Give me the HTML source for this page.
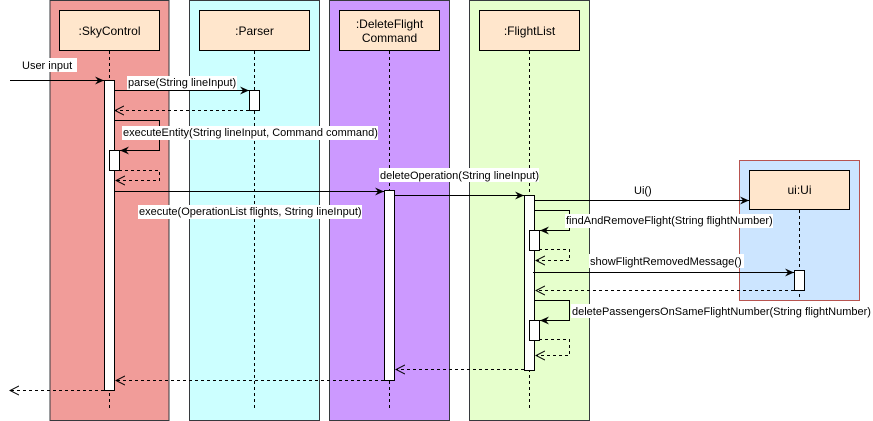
<!DOCTYPE html>
<html><head><style>
html,body{margin:0;padding:0;background:#fff;}
svg{display:block;}
text{font-family:"Liberation Sans",sans-serif;font-size:11px;fill:#000;}
</style></head><body>
<svg width="873" height="421" viewBox="0 0 873 421" xmlns="http://www.w3.org/2000/svg">
<defs>
<marker id="a" markerWidth="10" markerHeight="10" refX="9" refY="5" orient="auto" markerUnits="userSpaceOnUse"><path d="M0,1 L9,5 L0,9 L3,5 Z" fill="#000"/></marker>
<marker id="o" markerWidth="10" markerHeight="11" refX="9" refY="5" orient="auto" markerUnits="userSpaceOnUse"><path d="M0,0.5 L9,5 L0,9.5" fill="none" stroke="#000"/></marker>
</defs>
<!-- lanes -->
<rect x="50" y="0.5" width="119" height="420" fill="#f19c99" stroke="#36393d"/>
<rect x="189.5" y="0.5" width="130" height="420" fill="#ccffff" stroke="#36393d"/>
<rect x="329.5" y="0.5" width="120" height="420" fill="#cc99ff" stroke="#36393d"/>
<rect x="469.5" y="0.5" width="120" height="420" fill="#e6ffcc" stroke="#36393d"/>
<rect x="739.5" y="160.5" width="120" height="140" fill="#cce5ff" stroke="#b85450"/>
<!-- headers -->
<rect x="59.5" y="10.5" width="100" height="40" fill="#ffe6cc" stroke="#000"/>
<text x="109.5" y="35" text-anchor="middle" style="font-size:12px">:SkyControl</text>
<rect x="199.5" y="10.5" width="110" height="40" fill="#ffe6cc" stroke="#000"/>
<text x="254.5" y="35" text-anchor="middle" style="font-size:12px">:Parser</text>
<rect x="339.5" y="10.5" width="100" height="40" fill="#ffe6cc" stroke="#000"/>
<text x="389.5" y="28" text-anchor="middle" style="font-size:12px">:DeleteFlight</text>
<text x="389.5" y="42" text-anchor="middle" style="font-size:12px">Command</text>
<rect x="479.5" y="10.5" width="100" height="40" fill="#ffe6cc" stroke="#000"/>
<text x="529.5" y="35" text-anchor="middle" style="font-size:12px">:FlightList</text>
<rect x="749.5" y="170.5" width="100" height="39" fill="#ffe6cc" stroke="#000"/>
<text x="799.5" y="194" text-anchor="middle" style="font-size:12px">ui:Ui</text>
<!-- lifelines -->
<g stroke="#000" stroke-dasharray="3,3" fill="none">
<line x1="109.5" y1="51" x2="109.5" y2="408"/>
<line x1="254.5" y1="51" x2="254.5" y2="408"/>
<line x1="389.5" y1="51" x2="389.5" y2="408"/>
<line x1="529.5" y1="51" x2="529.5" y2="408"/>
<line x1="799.5" y1="210" x2="799.5" y2="300"/>
</g>
<!-- activations -->
<g fill="#fff" stroke="#000">
<rect x="104.5" y="80.5" width="10" height="310"/>
<rect x="249.5" y="90.5" width="10" height="20"/>
<rect x="109.5" y="150.5" width="10" height="20"/>
<rect x="384.5" y="190.5" width="10" height="190"/>
<rect x="524.5" y="195.5" width="10" height="175"/>
<rect x="529.5" y="230.5" width="10" height="20"/>
<rect x="529.5" y="320.5" width="10" height="20"/>
<rect x="794.5" y="270.5" width="10" height="20"/>
</g>
<!-- messages -->
<g stroke="#000" fill="none">
<line x1="10" y1="80.5" x2="104" y2="80.5" marker-end="url(#a)"/>
<line x1="114" y1="90.5" x2="249" y2="90.5" marker-end="url(#a)"/>
<line x1="249" y1="110.5" x2="115" y2="110.5" stroke-dasharray="3,3" marker-end="url(#o)"/>
<path d="M114,120.5 H159.5 V150.5 H120" marker-end="url(#a)"/>
<path d="M119,170.5 H159.5 V180.5 H116" stroke-dasharray="3,3" marker-end="url(#o)"/>
<line x1="114" y1="191.5" x2="384" y2="191.5" marker-end="url(#a)"/>
<line x1="394" y1="195.5" x2="524" y2="195.5" marker-end="url(#a)"/>
<line x1="534" y1="200.5" x2="749" y2="200.5" marker-end="url(#a)"/>
<path d="M534,210.5 H569.5 V230.5 H540" marker-end="url(#a)"/>
<path d="M539,249.5 H569.5 V260.5 H536" stroke-dasharray="3,3" marker-end="url(#o)"/>
<line x1="533" y1="272.5" x2="794" y2="272.5" marker-end="url(#a)"/>
<line x1="794" y1="290.5" x2="536" y2="290.5" stroke-dasharray="3,3" marker-end="url(#o)"/>
<path d="M534,300.5 H569.5 V320.5 H540" marker-end="url(#a)"/>
<path d="M539,339.5 H569.5 V355.5 H536" stroke-dasharray="3,3" marker-end="url(#o)"/>
<line x1="524" y1="369.5" x2="396" y2="369.5" stroke-dasharray="3,3" marker-end="url(#o)"/>
<line x1="384" y1="380.5" x2="116" y2="380.5" stroke-dasharray="3,3" marker-end="url(#o)"/>
<line x1="104" y1="390.5" x2="10" y2="390.5" stroke-dasharray="3,3" marker-end="url(#o)"/>
</g>
<!-- labels -->
<g fill="#fff">
<rect x="21" y="58" width="56" height="14"/>
<rect x="127" y="76" width="110" height="14"/>
<rect x="122" y="126" width="256" height="14"/>
<rect x="138" y="205" width="224" height="14"/>
<rect x="379" y="168" width="160" height="14"/>
<rect x="565" y="214" width="208" height="14"/>
<rect x="589" y="254" width="155" height="14"/>
<rect x="571" y="304" width="302" height="14"/>
</g>
<text x="22" y="69">User input</text>
<text x="128" y="86">parse(String lineInput)</text>
<text x="123" y="136">executeEntity(String lineInput, Command command)</text>
<text x="139" y="215">execute(OperationList flights, String lineInput)</text>
<text x="380" y="179">deleteOperation(String lineInput)</text>
<text x="634" y="194">Ui()</text>
<text x="566" y="224">findAndRemoveFlight(String flightNumber)</text>
<text x="590" y="265">showFlightRemovedMessage()</text>
<text x="572" y="315">deletePassengersOnSameFlightNumber(String flightNumber)</text>
</svg>
</body></html>
